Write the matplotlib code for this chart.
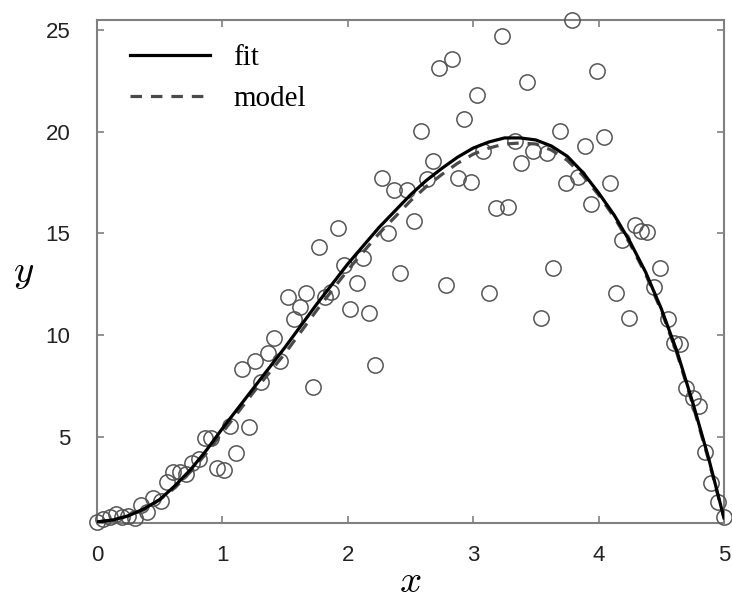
import matplotlib
matplotlib.use("Agg")
import matplotlib.pyplot as plt

plt.rcParams['mathtext.fontset'] = 'cm'

x_obs = [0.00, 0.05, 0.10, 0.15, 0.20, 0.25, 0.30, 0.35, 0.40, 0.45,
         0.51, 0.56, 0.61, 0.66, 0.71, 0.76, 0.81, 0.86, 0.91, 0.96,
         1.01, 1.06, 1.11, 1.16, 1.21, 1.26, 1.31, 1.36, 1.41, 1.46,
         1.52, 1.57, 1.62, 1.67, 1.72, 1.77, 1.82, 1.87, 1.92, 1.97,
         2.02, 2.07, 2.12, 2.17, 2.22, 2.27, 2.32, 2.37, 2.42, 2.47,
         2.53, 2.58, 2.63, 2.68, 2.73, 2.78, 2.83, 2.88, 2.93, 2.98,
         3.03, 3.08, 3.13, 3.18, 3.23, 3.28, 3.33, 3.38, 3.43, 3.48,
         3.54, 3.59, 3.64, 3.69, 3.74, 3.79, 3.84, 3.89, 3.94, 3.99,
         4.04, 4.09, 4.14, 4.19, 4.24, 4.29, 4.34, 4.39, 4.44, 4.49,
         4.55, 4.60, 4.65, 4.70, 4.75, 4.80, 4.85, 4.90, 4.95, 5.00]
y_obs = [0.81, 0.95, 1.06, 1.18, 1.06, 1.09, 1.01, 1.64, 1.31, 2.00,
         1.85, 2.78, 3.27, 3.27, 3.16, 3.69, 3.88, 4.92, 4.92, 3.44,
         3.36, 5.52, 4.21, 8.31, 5.46, 8.73, 7.70, 9.10, 9.84, 8.73,
         11.88, 10.77, 11.39, 12.05, 7.45, 14.31, 11.88, 12.13, 15.25, 13.44,
         11.26, 12.54, 13.81, 11.07, 8.52, 17.71, 15.01, 17.16, 13.05, 17.16,
         15.63, 20.03, 17.66, 18.58, 23.16, 12.46, 23.56, 17.71, 20.64, 17.55,
         21.82, 19.06, 12.08, 16.27, 24.74, 16.29, 19.56, 18.48, 22.46, 19.05,
         10.86, 18.94, 13.29, 20.03, 17.50, 25.49, 17.79, 19.29, 16.46, 22.98,
         19.75, 17.46, 12.08, 14.66, 10.86, 15.42, 15.11, 15.08, 12.37, 13.29,
         10.80, 9.59, 9.55, 7.40, 6.88, 6.51, 4.26, 2.73, 1.80, 1.06]

# curvas fit e model
x_curve = [0.0, 0.125, 0.25, 0.375, 0.5, 0.625, 0.75, 0.875, 1.0, 1.125,
           1.25, 1.375, 1.5, 1.625, 1.75, 1.875, 2.0, 2.125, 2.25, 2.375,
           2.5, 2.625, 2.75, 2.875, 3.0, 3.125, 3.25, 3.375, 3.5, 3.625,
           3.75, 3.875, 4.0, 4.125, 4.25, 4.375, 4.5, 4.625, 4.75, 4.875, 5.0]
y_fit = [0.8, 0.9, 1.1, 1.45, 1.9, 2.6, 3.4, 4.35, 5.4, 6.4,
         7.4, 8.4, 9.4, 10.45, 11.5, 12.5, 13.5, 14.4, 15.3, 16.1,
         16.9, 17.6, 18.2, 18.75, 19.2, 19.5, 19.7, 19.7, 19.6, 19.3,
         18.8, 18.0, 17.0, 15.9, 14.6, 13.1, 11.3, 9.2, 6.7, 4.0, 1.0]
y_model = [0.8, 0.9, 1.1, 1.4, 1.9, 2.5, 3.3, 4.2, 5.2, 6.2,
           7.2, 8.15, 9.1, 10.15, 11.2, 12.2, 13.2, 14.1, 15.0, 15.8,
           16.6, 17.3, 17.9, 18.45, 18.9, 19.2, 19.4, 19.45, 19.4, 19.1,
           18.6, 17.85, 16.9, 15.8, 14.5, 13.0, 11.2, 9.1, 6.6, 3.9, 1.0]

fig = plt.figure(figsize=(7.32, 6.03), dpi=100)
ax = fig.add_axes([0.1325, 0.1327, 0.8565, 0.834])

ax.plot(x_obs, y_obs, 'o', mfc='none', mec='#555555', ms=11, mew=1.1,
        clip_on=False, zorder=3)
ax.plot(x_curve, y_model, color='#4a4a4a', lw=2.3, ls=(0, (3.6, 2.8)),
        label='model', zorder=4)
ax.plot(x_curve, y_fit, color='black', lw=2.3, label='fit', zorder=5)

ax.set_xlim(0, 5)
ax.set_ylim(0.75, 25.5)
ax.set_xticks([0, 1, 2, 3, 4, 5])
ax.set_yticks([5, 10, 15, 20, 25])
ax.tick_params(direction='in', top=True, right=True, length=5,
               width=1.2, color='#808080', labelsize=16)
ax.tick_params(axis='x', pad=16)
ax.tick_params(axis='y', pad=19)
for lab in ax.get_xticklabels() + ax.get_yticklabels():
    lab.set_family('Liberation Sans')
    lab.set_color('#222222')
for s in ax.spines.values():
    s.set_color('#808080')
    s.set_linewidth(1.5)

ax.set_xlabel('$x$', fontsize=28, labelpad=-3)
ax.set_ylabel('$y$', fontsize=28, rotation=0, labelpad=16, va='center')

handles, labels = ax.get_legend_handles_labels()
ax.legend(handles[::-1], labels[::-1], loc='upper left', frameon=False,
          handlelength=2.75, handletextpad=0.8, labelspacing=0.5,
          borderaxespad=0, prop={'family': 'Liberation Serif', 'size': 21},
          bbox_to_anchor=(0.034, 0.974))

fig.savefig('out.png', dpi=100)
